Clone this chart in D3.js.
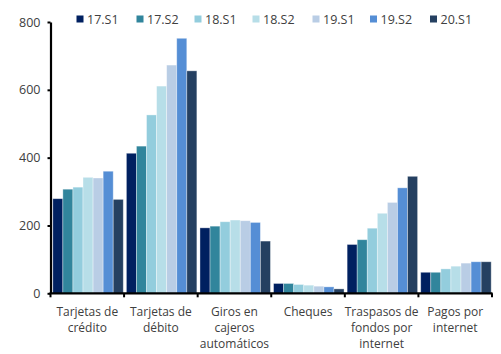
<!DOCTYPE html>
<html><head><meta charset="utf-8">
<script src="https://cdn.jsdelivr.net/npm/d3@7"></script>
<style>body{margin:0;background:#fff;}svg{display:block;font-family:"Open Sans","Noto Sans",sans-serif;}</style>
</head><body>
<svg id="c" width="501" height="354"></svg>
<script>
const categories = [["Tarjetas de","crédito"],["Tarjetas de","débito"],["Giros en","cajeros","automáticos"],["Cheques"],["Traspasos de","fondos por","internet"],["Pagos por","internet"]];
const seriesNames = ["17.S1","17.S2","18.S1","18.S2","19.S1","19.S2","20.S1"];
const s17S1 = [279, 413, 193, 29, 144, 62];
const s17S2 = [307, 434, 198, 29, 158, 62];
const s18S1 = [313, 526, 211, 26, 192, 72];
const s18S2 = [342, 611, 216, 24, 236, 80];
const s19S1 = [340, 673, 214, 21, 268, 89];
const s19S2 = [360, 752, 209, 19, 311, 93];
const s20S1 = [277, 656, 154, 13, 345, 93];
const yTicks = [0, 200, 400, 600, 800];
const colors = ["#002060","#31859C","#93CDDD","#B7DEE8","#B9CDE5","#558ED5","#254061"];

const values = [s17S1,s17S2,s18S1,s18S2,s19S1,s19S2,s20S1];
const svg = d3.select("#c");
const x0 = d3.scaleBand().domain(d3.range(categories.length)).range([50.5, 492]).paddingInner(0).paddingOuter(0);
const x1 = d3.scaleBand().domain(d3.range(seriesNames.length)).range([2.3, x0.bandwidth()-0.8]).padding(0);
const y = d3.scaleLinear().domain([0, 800]).range([293.3, 22]);

const g = svg.append("g");
categories.forEach((c, ci) => {
  values.forEach((s, si) => {
    g.append("rect")
      .attr("x", x0(ci) + x1(si))
      .attr("y", y(s[ci]))
      .attr("width", x1.bandwidth())
      .attr("height", y(0) - y(s[ci]))
      .attr("fill", colors[si])
      .attr("stroke", "rgba(255,255,255,0.45)")
      .attr("stroke-width", 0.8);
  });
});

// y axis
const yAxis = d3.axisLeft(y).tickValues(yTicks).tickSize(3).tickPadding(7).tickSizeOuter(0);
const ya = svg.append("g").attr("transform","translate(50.5,0)").call(yAxis);
ya.select(".domain").attr("stroke","#000").attr("stroke-width",2.2);
ya.selectAll(".tick line").attr("stroke","#000").attr("stroke-width",2);
ya.selectAll(".tick text").attr("fill","#404040").style("font-size","12.5px").style("font-family","'Open Sans','Noto Sans',sans-serif");

// x axis
const xa = svg.append("g").attr("transform","translate(0,"+y(0)+")");
xa.append("line").attr("x1",49.5).attr("x2",492.5).attr("y1",0).attr("y2",0).attr("stroke","#000").attr("stroke-width",2.2);
const bounds = d3.range(categories.length+1).map(i => i < categories.length ? x0(i) : x0(categories.length-1)+x0.bandwidth());
xa.selectAll("line.tk").data(bounds).enter().append("line").attr("class","tk")
  .attr("x1",d=>d).attr("x2",d=>d).attr("y1",0).attr("y2",4).attr("stroke","#000").attr("stroke-width",2);
categories.forEach((c, ci) => {
  const t = xa.append("text").attr("x", x0(ci)+x0.bandwidth()/2).attr("y", 23)
    .attr("text-anchor","middle").attr("fill","#404040").style("font-size","12px");
  c.forEach((line, li) => t.append("tspan").attr("x", x0(ci)+x0.bandwidth()/2).attr("dy", li===0?0:16).text(line));
});

// legend
const lx = [76.5,136.5,194.5,252.5,312.5,370,430];
const lg = svg.append("g");
seriesNames.forEach((n, i) => {
  lg.append("rect").attr("x", lx[i]).attr("y", 15.5).attr("width", 7).attr("height", 7).attr("fill", colors[i]);
  lg.append("text").attr("x", lx[i]+10.5).attr("y", 23.5).attr("fill","#404040").style("font-size","12.5px").text(n);
});
</script>
</body></html>
